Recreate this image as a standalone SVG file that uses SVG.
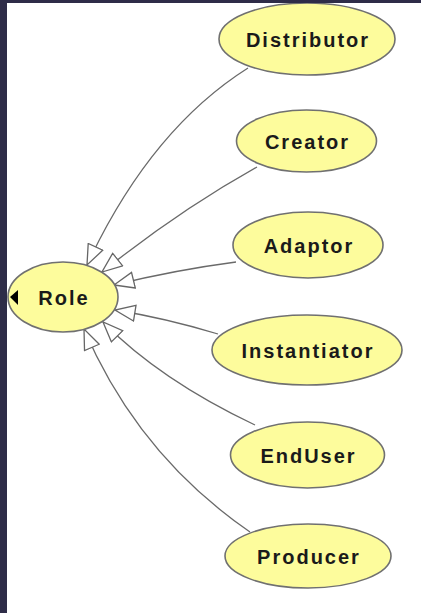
<svg xmlns="http://www.w3.org/2000/svg" width="421" height="613" viewBox="0 0 421 613">
  <style>
    .node ellipse { fill: #fdfc9c; stroke: #707070; stroke-width: 1.6; }
    .node text { font-family: "Liberation Sans", Arial, sans-serif; font-weight: bold; font-size: 20px; letter-spacing: 2px; fill: #1a1a1a; text-anchor: middle; }
    .edge { fill: none; stroke: #6a6a6a; stroke-width: 1.3; marker-end: url(#hollow); }
  </style>
  <defs>
    <!-- hollow triangle head for generalization links -->
    <marker id="hollow" viewBox="0 0 22 18" refX="21" refY="9" markerWidth="22" markerHeight="18" markerUnits="userSpaceOnUse" orient="auto">
      <path d="M1,1 L21,9 L1,17 Z" fill="#ffffff" stroke="#666666" stroke-width="1.3" stroke-linejoin="miter"/>
    </marker>
  </defs>

  <rect x="0" y="0" width="421" height="613" fill="#ffffff"/>

  <g id="connectors">
    <path class="edge" d="M248,68 Q150,130 87,265"/>
    <path class="edge" d="M257,167 Q180,210 102,272"/>
    <path class="edge" d="M236,262 Q175,270 114,285"/>
    <path class="edge" d="M218,334 Q165,318 115,310"/>
    <path class="edge" d="M255,425 Q160,380 103,322"/>
    <path class="edge" d="M250,532 Q138,455 84,329"/>
  </g>

  <g id="node-distributor" class="node">
    <ellipse cx="307" cy="39" rx="88" ry="36"/>
    <text x="308" y="47">Distributor</text>
  </g>
  <g id="node-creator" class="node">
    <ellipse cx="306.5" cy="141" rx="70" ry="31"/>
    <text x="307.5" y="149">Creator</text>
  </g>
  <g id="node-adaptor" class="node">
    <ellipse cx="308" cy="245" rx="75" ry="33"/>
    <text x="309" y="253">Adaptor</text>
  </g>
  <g id="node-instantiator" class="node">
    <ellipse cx="307" cy="350" rx="95" ry="35"/>
    <text x="308" y="358">Instantiator</text>
  </g>
  <g id="node-enduser" class="node">
    <ellipse cx="307.5" cy="455" rx="77" ry="33"/>
    <text x="308.5" y="463">EndUser</text>
  </g>
  <g id="node-producer" class="node">
    <ellipse cx="308" cy="556" rx="83" ry="32"/>
    <text x="309" y="564">Producer</text>
  </g>
  <g id="node-role" class="node">
    <ellipse cx="63" cy="297" rx="55" ry="35"/>
    <text x="64" y="305">Role</text>
    <!-- collapse handle -->
    <path d="M10,297 L18,290 L18,305 Z" fill="#000000"/>
  </g>

  <!-- window frame -->
  <rect x="0" y="0" width="421" height="3" fill="#2e2c48"/>
  <rect x="0" y="0" width="7" height="613" fill="#2e2c48"/>
</svg>
